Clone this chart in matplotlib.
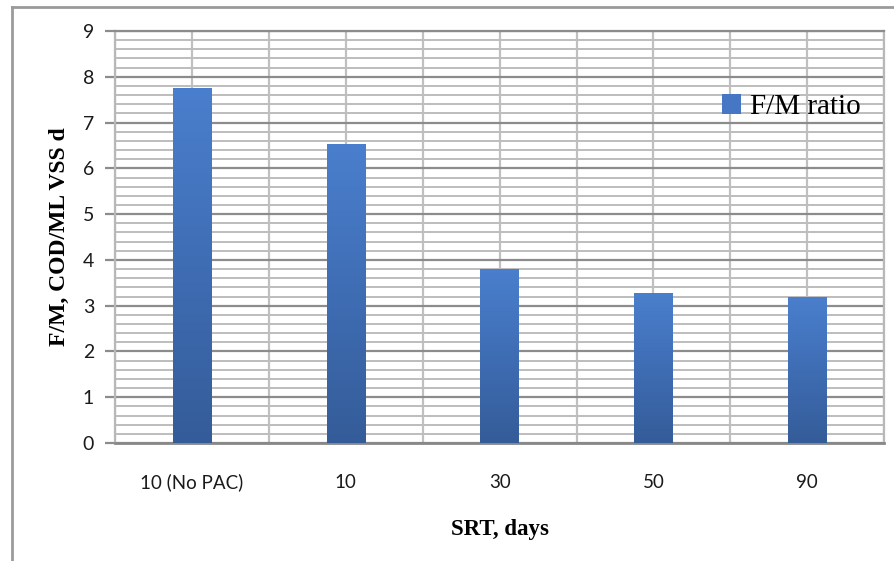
import numpy as np
import matplotlib
matplotlib.use("Agg")
import matplotlib.pyplot as plt
from matplotlib.patches import Patch
from matplotlib.lines import Line2D
from matplotlib.colors import LinearSegmentedColormap

categories = ["10 (No PAC)", "10", "30", "50", "90"]
fm_ratio = [7.75, 6.53, 3.80, 3.27, 3.17]
y_ticks = [0, 1, 2, 3, 4, 5, 6, 7, 8, 9]

fig = plt.figure(figsize=(8.95, 5.61), dpi=100)
ax = fig.add_axes([0.1285, 0.2103, 0.988 - 0.1285, 0.9447 - 0.2103])

x = np.arange(len(categories))
width = 0.25
cmap = LinearSegmentedColormap.from_list("g", ["#345c98", "#3f6db4", "#4a7fcd"])
grad = np.linspace(0, 1, 256).reshape(-1, 1)

bars = ax.bar(x, fm_ratio, width=width, color="none", edgecolor="none", zorder=3)
for b in bars:
    x0, y0 = b.get_x(), b.get_y()
    w, h = b.get_width(), b.get_height()
    ax.imshow(grad, cmap=cmap, origin="lower", aspect="auto",
              extent=[x0, x0 + w, y0, y0 + h], zorder=3)

ax.set_xlim(-0.5, len(categories) - 0.5)
ax.set_ylim(0, 9)
ax.set_yticks(y_ticks)
ax.set_yticks(np.arange(0, 9.01, 0.2), minor=True)
ax.set_xticks(x)
ax.set_xticks(np.arange(-0.5, len(categories), 1.0), minor=True)
ax.set_xticklabels(categories, fontfamily="Lato", fontsize=13.5)
ax.set_yticklabels([str(t) for t in y_ticks], fontfamily="Lato", fontsize=14)

ax.grid(True, which="major", axis="y", color="#8c8c8c", linewidth=1.6, zorder=1)
ax.grid(True, which="minor", axis="y", color="#bdbdbd", linewidth=1.4, zorder=0)
ax.grid(True, which="both", axis="x", color="#c0c0c0", linewidth=1.6, zorder=0)
ax.set_axisbelow(True)

ax.tick_params(axis="x", which="both", length=0, pad=22, colors="#1a1a1a")
ax.tick_params(axis="y", which="major", length=7, width=1.6, color="#8c8c8c", pad=8, labelcolor="#1a1a1a")
ax.tick_params(axis="y", which="minor", length=0)

for s in ["left", "right", "top"]:
    ax.spines[s].set_color("#b8b8b8")
    ax.spines[s].set_linewidth(1.6)
ax.spines["top"].set_color("#8c8c8c")
ax.spines["bottom"].set_color("#888888")
ax.spines["bottom"].set_linewidth(2.0)

ax.set_xlabel("SRT, days", fontfamily="Liberation Serif", fontweight="bold", fontsize=16.5, labelpad=20)
ax.set_ylabel("F/M, COD/ML VSS d", fontfamily="Liberation Serif", fontweight="bold", fontsize=17, labelpad=9)

handle = Patch(facecolor="#4677c4", edgecolor="none")
ax.legend([handle], ["F/M ratio"], loc="center left",
          bbox_to_anchor=(0.807, 0.809), bbox_transform=fig.transFigure,
          frameon=False, borderpad=0, borderaxespad=0,
          handlelength=0.65, handleheight=0.65, handletextpad=0.3,
          prop={"family": "Liberation Serif", "size": 21})

# outer chart frame (top and left edges visible)
fig.add_artist(Line2D([12 / 895, 12 / 895], [0, 1 - 7 / 561], transform=fig.transFigure,
                      color="#9a9a9a", linewidth=2))
fig.add_artist(Line2D([12 / 895, 1], [1 - 7 / 561, 1 - 7 / 561], transform=fig.transFigure,
                      color="#9a9a9a", linewidth=2))

fig.savefig("out.png", dpi=100)
